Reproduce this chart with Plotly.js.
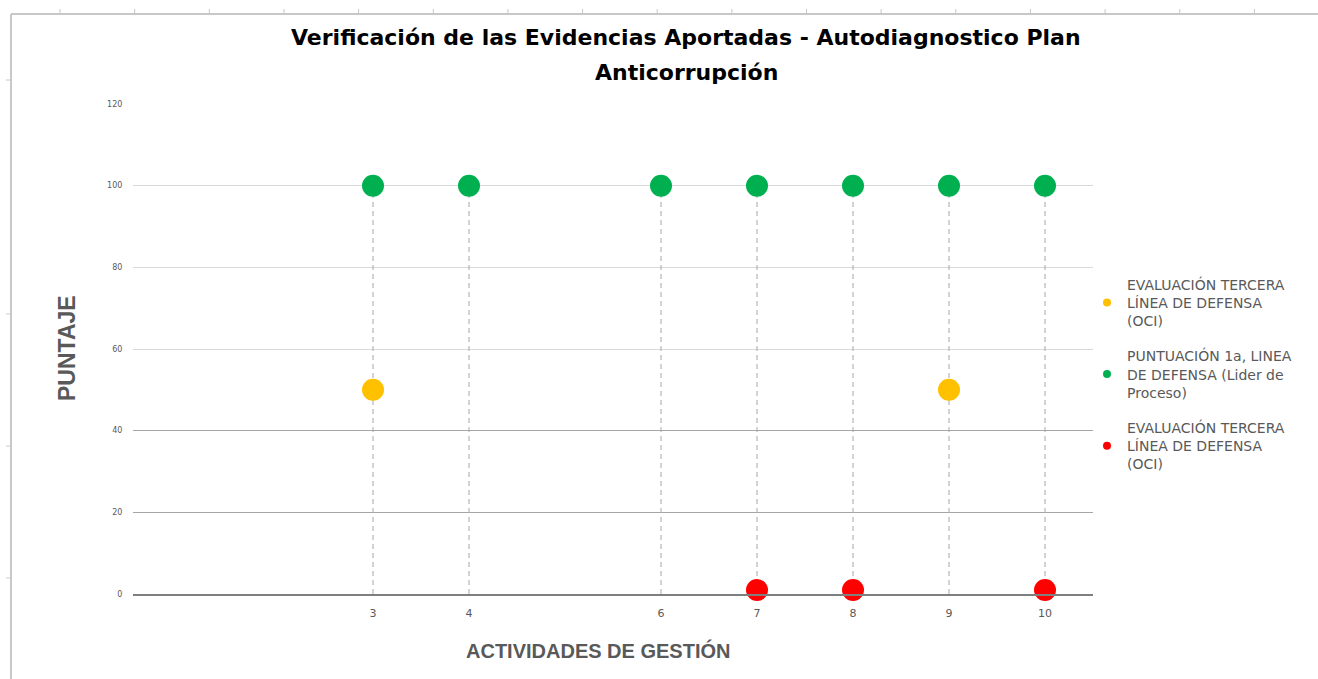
<!DOCTYPE html>
<html>
<head>
<meta charset="utf-8">
<script src="https://cdn.plot.ly/plotly-3.0.1.min.js"></script>
<style>html,body{margin:0;padding:0;background:#fff;}#chart{width:1318px;height:679px;}</style>
</head>
<body>
<div id="chart"></div>
<script>
// ---- data ----
const actividades = [3, 4, 6, 7, 8, 9, 10];
const terceraAmarillo = [50, null, null, null, null, 50, null];
const primeraLinea = [100, 100, 100, 100, 100, 100, 100];
const terceraRojo = [null, null, null, 1, 1, null, 1];
const yTicks = [0, 20, 40, 60, 80, 100, 120];
const darkGrid = [20, 40];
const titleLines = ['Verificación de las Evidencias Aportadas - Autodiagnostico Plan', 'Anticorrupción'];
const seriesNames = [
  'EVALUACIÓN TERCERA<br>LÍNEA DE DEFENSA<br>(OCI)',
  'PUNTUACIÓN 1a, LINEA<br>DE DEFENSA (Lider de<br>Proceso)',
  'EVALUACIÓN TERCERA<br>LÍNEA DE DEFENSA<br>(OCI)'
];
const colors = ['#FFC000', '#00B050', '#FF0000'];

// drop lines from highest point of each category to 0
const dropX = [], dropY = [];
actividades.forEach((x, i) => {
  const vals = [terceraAmarillo[i], primeraLinea[i], terceraRojo[i]].filter(v => v !== null);
  const top = Math.max(...vals);
  dropX.push(x, x, null);
  dropY.push(0, top, null);
});

const series = [terceraAmarillo, primeraLinea, terceraRojo];
const traces = [{
  x: dropX, y: dropY, mode: 'lines', type: 'scatter',
  line: {color: '#a6a6a6', width: 1, dash: '5px,4px'},
  showlegend: false, hoverinfo: 'skip', cliponaxis: false
}];
series.forEach((s, k) => {
  traces.push({
    x: actividades, y: s, mode: 'markers', type: 'scatter',
    marker: {color: colors[k], size: 22},
    showlegend: false, cliponaxis: false, name: seriesNames[k]
  });
});
series.forEach((s, k) => {
  traces.push({
    x: [null], y: [null], mode: 'markers', type: 'scatter',
    marker: {color: colors[k], size: 8},
    name: seriesNames[k], legendgroup: 'g' + k, showlegend: true
  });
});
// overlay axis carrying the darker gridlines
traces.push({x: [null], y: [null], yaxis: 'y2', showlegend: false, hoverinfo: 'skip', mode: 'markers'});

// pixel -> paper helpers (plot area 133..1093 x 104..594)
const px = v => (v - 133) / 960;
const py = v => (594 - v) / 490;

const shapes = [
  {type: 'line', xref: 'paper', yref: 'paper', x0: px(11), x1: px(1318), y0: py(14), y1: py(14), line: {color: '#c8c8c8', width: 2}},
  {type: 'line', xref: 'paper', yref: 'paper', x0: px(11), x1: px(11), y0: py(14), y1: py(679), line: {color: '#c8c8c8', width: 2}}
];
for (let cx = 60; cx < 1318; cx += 74.65) {
  shapes.push({type: 'line', xref: 'paper', yref: 'paper', x0: px(cx), x1: px(cx), y0: py(9), y1: py(14), line: {color: '#c8c8c8', width: 1}});
}
[80, 314, 446, 578].forEach(ry => {
  shapes.push({type: 'line', xref: 'paper', yref: 'paper', x0: px(6), x1: px(11), y0: py(ry), y1: py(ry), line: {color: '#c8c8c8', width: 1}});
});

const annotations = [
  {text: '<b>PUNTAJE</b>', xref: 'paper', yref: 'paper', x: px(67), y: py(348),
   xanchor: 'center', yanchor: 'middle', textangle: -90, showarrow: false,
   font: {family: 'Liberation Sans, Arial, sans-serif', size: 23, color: '#595959'}},
  {text: '<b>ACTIVIDADES DE GESTIÓN</b>', xref: 'paper', yref: 'paper', x: px(598), y: py(650),
   xanchor: 'center', yanchor: 'middle', showarrow: false,
   font: {family: 'Liberation Sans, Arial, sans-serif', size: 20, color: '#595959'}}
];
[38, 72].forEach((ty, i) => {
  annotations.push({text: '<b>' + titleLines[i] + '</b>', xref: 'paper', yref: 'paper', x: px(686), y: py(ty),
    xanchor: 'center', yanchor: 'middle', showarrow: false,
    font: {family: 'DejaVu Sans, Verdana, sans-serif', size: 22, color: '#000'}});
});

const layout = {
  width: 1318, height: 679,
  margin: {l: 133, r: 225, t: 104, b: 85},
  paper_bgcolor: '#fff', plot_bgcolor: 'rgba(0,0,0,0)',
  font: {family: 'DejaVu Sans, Verdana, sans-serif', color: '#595959'},
  xaxis: {
    range: [0.5, 10.5], tickvals: actividades, ticktext: actividades.map(String),
    showgrid: false, zeroline: false,
    showline: true, linecolor: '#7f7f7f', linewidth: 1.5,
    ticks: 'outside', ticklen: 8, tickcolor: 'rgba(0,0,0,0)',
    tickfont: {size: 11, color: '#595959', family: 'DejaVu Sans, sans-serif'}
  },
  yaxis: {
    range: [0, 120], tickvals: yTicks, showgrid: true, gridcolor: '#d9d9d9', gridwidth: 1,
    zeroline: false, showline: false,
    ticks: 'outside', ticklen: 8, tickcolor: 'rgba(0,0,0,0)',
    tickfont: {size: 8, color: '#595959', family: 'DejaVu Sans, sans-serif'}
  },
  yaxis2: {
    overlaying: 'y', range: [0, 120], tickvals: darkGrid, showticklabels: false,
    showgrid: true, gridcolor: '#a6a6a6', gridwidth: 1, zeroline: false, ticks: ''
  },
  legend: {
    x: px(1087), xanchor: 'left', y: 0.664, yanchor: 'top',
    font: {size: 14, color: '#595959', family: 'DejaVu Sans, Verdana, sans-serif'},
    tracegroupgap: 14, bgcolor: 'rgba(0,0,0,0)', itemclick: false
  },
  annotations: annotations,
  shapes: shapes,
  showlegend: true
};

Plotly.newPlot('chart', traces, layout, {displayModeBar: false, staticPlot: true});
</script>
</body>
</html>
